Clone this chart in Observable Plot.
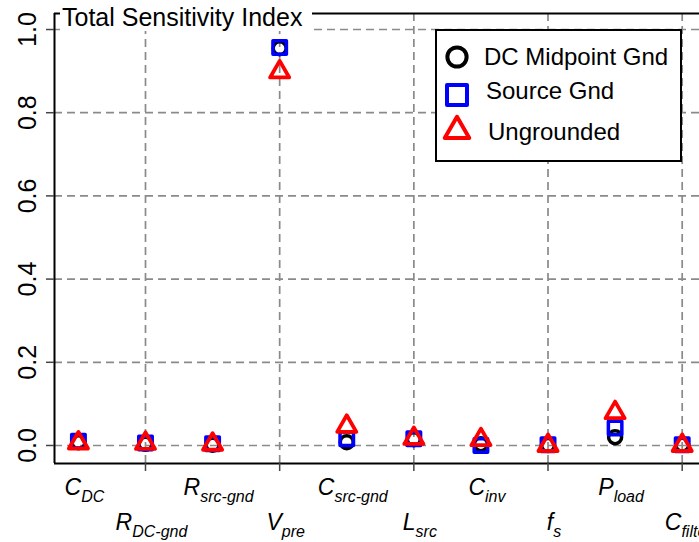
<!DOCTYPE html>
<html><head><meta charset="utf-8">
<script src="https://cdn.jsdelivr.net/npm/d3@7"></script>
<script src="https://cdn.jsdelivr.net/npm/@observablehq/plot@0.6"></script>
<style>body{margin:0;background:#fff;overflow:hidden} svg{display:block}</style>
</head><body><div id="chart"></div>
<script>
const categories = ["C_DC","R_DC-gnd","R_src-gnd","V_pre","C_src-gnd","L_src","C_inv","f_s","P_load","C_filter"];
const mainLetters = ["C","R","R","V","C","L","C","f","P","C"];
const subscripts = ["DC","DC-gnd","src-gnd","pre","src-gnd","src","inv","s","load","filter"];
const dcMidpointGnd = [0.008,0.004,0.002,0.955,0.008,0.015,0.003,0.001,0.020,0.002];
const sourceGnd     = [0.010,0.006,0.004,0.957,0.016,0.016,0.000,0.002,0.042,0.002];
const ungrounded    = [0.006,0.005,0.003,0.898,0.046,0.017,0.014,0.000,0.079,0.000];
const yTicks = [0, 0.2, 0.4, 0.6, 0.8, 1.0];
const seriesNames = ["DC Midpoint Gnd", "Source Gnd", "Ungrounded"];
const seriesColors = ["#000000", "#0000ff", "#ff0000"];
const seriesSymbols = ["circle", "square", "triangle"];
const titleText = "Total Sensitivity Index";

const W = 699, H = 542;
const mL = 54, mT = 13, mB = 79, mR = 0;
const xDomain = [0.6436, 10.258];
const yDomain = [-0.0433, 1.0385];

const idx = categories.map((c, i) => i + 1);
const gridIdx = idx.filter(i => i % 2 === 0);
const series = [dcMidpointGnd, sourceGnd, ungrounded];
const rows = series.map(vals => categories.map((c, i) => ({idx: i + 1, cat: c, v: vals[i]})));
const labels = categories.map((c, i) => ({idx: i + 1, main: mainLetters[i], sub: subscripts[i], row: i % 2}));
const dotR = [6.5, 7.6, 7.1];
const dotW = [3.5, 3.5, 3.8];

const gridStyle = {stroke: "#8a8a8a", strokeWidth: 1.7, strokeDasharray: "8,5"};

const svg = Plot.plot({
  width: W, height: H,
  marginLeft: mL, marginTop: mT, marginBottom: mB, marginRight: mR,
  style: {fontFamily: "'Liberation Sans', Arial, sans-serif", fontSize: "24px", background: "white", color: "black", overflow: "visible"},
  x: {type: "linear", domain: xDomain},
  y: {type: "linear", domain: yDomain},
  marks: [
    Plot.ruleY(yTicks, gridStyle),
    Plot.ruleX(gridIdx, gridStyle),
    Plot.ruleX([xDomain[0]], {stroke: "black", strokeWidth: 2}),
    Plot.ruleY([yDomain[0]], {stroke: "black", strokeWidth: 2}),
    Plot.ruleY([yDomain[1]], {stroke: "black", strokeWidth: 2}),
    Plot.axisY({ticks: yTicks, tickSize: 8, tickFormat: () => "", label: null, stroke: "#444", strokeWidth: 1.5}),
    Plot.axisX({ticks: gridIdx, tickSize: 8, tickFormat: () => "", label: null, stroke: "#444", strokeWidth: 1.5}),
    Plot.text(yTicks, {y: d => d, text: d => d.toFixed(1), frameAnchor: "left", dx: -19, rotate: -90,
      textAnchor: "middle", lineAnchor: "bottom", fontSize: 25, fill: "black"}),
    ...rows.map((data, k) => Plot.dot(data, {x: "idx", y: "v", symbol: seriesSymbols[k], r: dotR[k],
      stroke: seriesColors[k], strokeWidth: dotW[k], fill: "none", strokeLinejoin: "round"})),
    Plot.text(labels.filter(d => d.row === 0), {x: "idx", text: d => d.main + "|" + d.sub, frameAnchor: "bottom",
      dx: 6, dy: 31, lineAnchor: "bottom", fontSize: 23, fontStyle: "italic", fill: "black"}),
    Plot.text(labels.filter(d => d.row === 1), {x: "idx", text: d => d.main + "|" + d.sub, frameAnchor: "bottom",
      dx: 6, dy: 66, lineAnchor: "bottom", fontSize: 23, fontStyle: "italic", fill: "black"})
  ]
});

document.getElementById("chart").appendChild(svg);

// subscripts
svg.querySelectorAll("text").forEach(t => {
  if (!t.textContent.includes("|")) return;
  const [m, s] = t.textContent.split("|");
  while (t.firstChild) t.removeChild(t.firstChild);
  const sel = d3.select(t);
  sel.append("tspan").text(m);
  sel.append("tspan").attr("dy", 7).attr("font-size", 16).text(s);
});

const root = d3.select(svg);
// title over the top border
root.append("rect").attr("x", 60).attr("y", 10).attr("width", 252).attr("height", 21).attr("fill", "white");
root.append("text").attr("x", 62).attr("y", 26).attr("font-size", 25).attr("text-anchor", "start").attr("fill", "black").text(titleText);

// legend
const lg = root.append("g").attr("text-anchor", "start");
lg.append("rect").attr("x", 436).attr("y", 30).attr("width", 245).attr("height", 131)
  .attr("fill", "white").attr("stroke", "black").attr("stroke-width", 2);
const legY = [57, 95, 131];
const legTextX = [484, 486, 488];
const legTextY = [65, 99, 140];
const legSize = [290, 400, 260];
const symMap = {circle: d3.symbolCircle, square: d3.symbolSquare, triangle: d3.symbolTriangle};
seriesNames.forEach((name, k) => {
  lg.append("path").attr("transform", `translate(457,${legY[k]})`)
    .attr("d", d3.symbol(symMap[seriesSymbols[k]], legSize[k])())
    .attr("fill", "none").attr("stroke", seriesColors[k]).attr("stroke-width", 4).attr("stroke-linejoin", "round");
  lg.append("text").attr("x", legTextX[k]).attr("y", legTextY[k]).attr("font-size", 24).attr("fill", "black").text(name);
});
</script></body></html>
